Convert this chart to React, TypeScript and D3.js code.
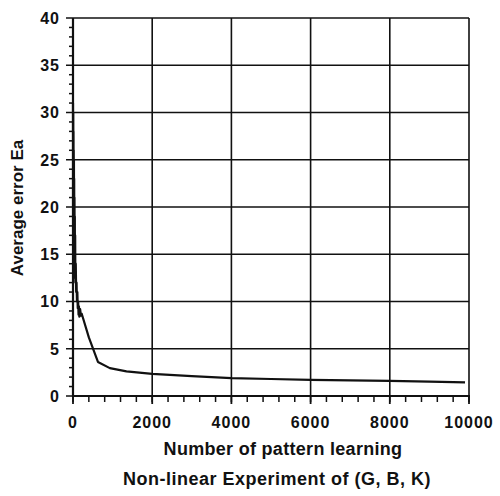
import React, { useEffect, useRef } from "react";
import * as d3 from "d3";

const xTicks = [0, 2000, 4000, 6000, 8000, 10000];
const yTicks = [0, 5, 10, 15, 20, 25, 30, 35, 40];
const patterns = [0, 3, 6, 9, 12, 15, 18, 21, 24, 27, 30, 34, 38, 42, 46, 50, 55, 60, 70, 80, 90, 100, 110, 120, 130, 140, 150, 160, 180, 200, 220, 400, 630, 930, 1350, 2000, 3000, 4000, 5000, 6000, 7000, 8000, 9000, 9900];
const errors = [31, 16, 30, 15, 28, 14, 26, 13.5, 25, 13, 23, 13, 21, 12.5, 19, 12.5, 17, 12, 14, 11, 12, 10, 11, 9.3, 10, 8.6, 9.5, 8.4, 9.2, 8.5, 8.7, 6.2, 3.6, 2.95, 2.6, 2.35, 2.1, 1.9, 1.8, 1.7, 1.65, 1.6, 1.52, 1.45];

const W = 500, H = 496;
const m = { left: 73, right: 469, top: 18, bottom: 396 };

export default function App() {
  const ref = useRef<SVGSVGElement>(null);
  useEffect(() => {
    const svg = d3.select(ref.current);
    svg.selectAll("*").remove();
    const x = d3.scaleLinear().domain([0, 10000]).range([m.left, m.right]);
    const y = d3.scaleLinear().domain([0, 40]).range([m.bottom, m.top]);
    const font = "'Liberation Sans', Arial, sans-serif";
    const g = svg.append("g");

    // grid
    g.selectAll(".gx").data(xTicks).enter().append("line")
      .attr("x1", d => x(d)).attr("x2", d => x(d)).attr("y1", m.top).attr("y2", m.bottom)
      .attr("stroke", "#111").attr("stroke-width", 1.6);
    g.selectAll(".gy").data(yTicks).enter().append("line")
      .attr("x1", m.left).attr("x2", m.right).attr("y1", d => y(d)).attr("y2", d => y(d))
      .attr("stroke", "#111").attr("stroke-width", 1.6);

    // axes
    g.append("line").attr("x1", m.left).attr("x2", m.left).attr("y1", m.top).attr("y2", m.bottom + 1)
      .attr("stroke", "#111").attr("stroke-width", 2.2);
    g.append("line").attr("x1", m.left - 1).attr("x2", m.right + 1).attr("y1", m.bottom).attr("y2", m.bottom)
      .attr("stroke", "#111").attr("stroke-width", 2.2);

    // ticks
    const yMinor = d3.range(0, 41, 1);
    g.selectAll(".ty").data(yMinor).enter().append("line")
      .attr("x1", d => (d % 5 === 0 ? m.left - 7 : m.left - 4)).attr("x2", m.left)
      .attr("y1", d => y(d)).attr("y2", d => y(d))
      .attr("stroke", "#111").attr("stroke-width", 1.5);
    const xMinor = d3.range(0, 10001, 400);
    g.selectAll(".tx").data(xMinor).enter().append("line")
      .attr("x1", d => x(d)).attr("x2", d => x(d))
      .attr("y1", m.bottom).attr("y2", m.bottom + 6)
      .attr("stroke", "#111").attr("stroke-width", 1.5);
    g.selectAll(".txm").data(xTicks).enter().append("line")
      .attr("x1", d => x(d)).attr("x2", d => x(d))
      .attr("y1", m.bottom).attr("y2", m.bottom + 8)
      .attr("stroke", "#111").attr("stroke-width", 1.8);

    // tick labels
    g.selectAll(".ly").data(yTicks).enter().append("text")
      .attr("x", m.left - 13).attr("y", d => y(d)).attr("dy", "0.36em")
      .attr("text-anchor", "end").attr("font-family", font).attr("font-size", 16)
      .attr("font-weight", "bold").attr("letter-spacing", 1)
      .attr("fill", "#111").text(d => String(d));
    g.selectAll(".lx").data(xTicks).enter().append("text")
      .attr("x", d => x(d)).attr("y", 428)
      .attr("text-anchor", "middle").attr("font-family", font).attr("font-size", 16)
      .attr("font-weight", "bold").attr("letter-spacing", 1)
      .attr("fill", "#111").text(d => String(d));

    // titles
    g.append("text").attr("x", 283).attr("y", 455).attr("text-anchor", "middle")
      .attr("font-family", font).attr("font-size", 18).attr("font-weight", "bold")
      .attr("letter-spacing", 0.3).attr("fill", "#111")
      .text("Number of pattern learning");
    g.append("text").attr("x", 277).attr("y", 485).attr("text-anchor", "middle")
      .attr("font-family", font).attr("font-size", 18).attr("font-weight", "bold")
      .attr("letter-spacing", 0.5).attr("fill", "#111")
      .text("Non-linear Experiment of (G, B, K)");
    g.append("text").attr("transform", "translate(23,208) rotate(-90)").attr("text-anchor", "middle")
      .attr("font-family", font).attr("font-size", 17).attr("font-weight", "bold")
      .attr("fill", "#111")
      .text("Average error Ea");

    // curve
    const pts = patterns.map((p, i) => [p, errors[i]] as [number, number]);
    const line = d3.line<[number, number]>().x(d => x(d[0])).y(d => y(d[1]));
    g.append("path").datum(pts).attr("d", line).attr("fill", "none")
      .attr("stroke", "#111").attr("stroke-width", 2.2).attr("stroke-linejoin", "round");
  }, []);
  return <svg ref={ref} width={W} height={H} style={{ position: "absolute", left: 0, top: 0, background: "#fff" }} />;
}
